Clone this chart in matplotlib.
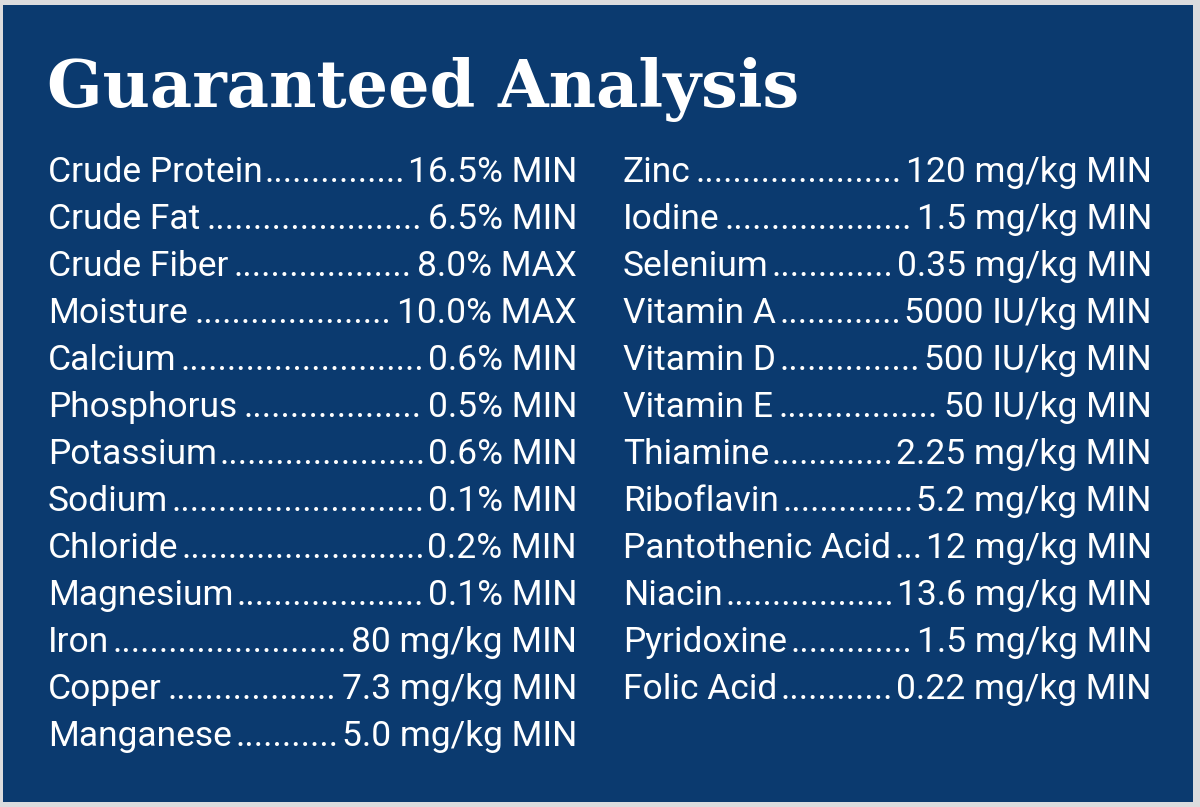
import matplotlib.pyplot as plt
from matplotlib.patches import Rectangle

W, H = 1200, 807

title = "Guaranteed Analysis"

left_names = ["Crude Protein", "Crude Fat", "Crude Fiber", "Moisture", "Calcium",
              "Phosphorus", "Potassium", "Sodium", "Chloride", "Magnesium",
              "Iron", "Copper", "Manganese"]
left_values = ["16.5% MIN", "6.5% MIN", "8.0% MAX", "10.0% MAX", "0.6% MIN",
               "0.5% MIN", "0.6% MIN", "0.1% MIN", "0.2% MIN", "0.1% MIN",
               "80 mg/kg MIN", "7.3 mg/kg MIN", "5.0 mg/kg MIN"]

right_names = ["Zinc", "Iodine", "Selenium", "Vitamin A", "Vitamin D", "Vitamin E",
               "Thiamine", "Riboflavin", "Pantothenic Acid", "Niacin",
               "Pyridoxine", "Folic Acid"]
right_values = ["120 mg/kg MIN", "1.5 mg/kg MIN", "0.35 mg/kg MIN",
                "5000 IU/kg MIN", "500 IU/kg MIN", "50 IU/kg MIN",
                "2.25 mg/kg MIN", "5.2 mg/kg MIN", "12 mg/kg MIN",
                "13.6 mg/kg MIN", "1.5 mg/kg MIN", "0.22 mg/kg MIN"]

bg_gray = "#dcdcde"
navy = "#0b3a6f"
body_font = "Roboto"
body_size = 25.5

fig = plt.figure(figsize=(W / 100, H / 100), dpi=100, facecolor=bg_gray)
ax = fig.add_axes([0, 0, 1, 1])
ax.set_xlim(0, W)
ax.set_ylim(H, 0)
ax.axis("off")
ax.add_patch(Rectangle((3, 5), 1190, 797, facecolor=navy, edgecolor="none"))

ax.text(47, 107, title, color="white", fontsize=47, fontweight="heavy",
        family="DejaVu Serif", va="baseline", ha="left")

fig.canvas.draw()
renderer = fig.canvas.get_renderer()
inv = ax.transData.inverted()


def leader_column(names, values, x0, x1, y0, step):
    dot = ax.text(0, 0, ".", fontsize=body_size, family=body_font)
    dot_w = dot.get_window_extent(renderer).width
    dot.remove()
    for i, (name, val) in enumerate(zip(names, values)):
        y = y0 + i * step
        t1 = ax.text(x0, y, name, color="white", fontsize=body_size,
                     family=body_font, va="baseline", ha="left")
        t2 = ax.text(x1, y, val, color="white", fontsize=body_size,
                     family=body_font, va="baseline", ha="right")
        e1 = inv.transform(t1.get_window_extent(renderer))
        e2 = inv.transform(t2.get_window_extent(renderer))
        gap_start = e1[1][0] + 2
        gap_end = e2[0][0] - 2
        n = max(int((gap_end - gap_start) // dot_w), 0)
        ax.text((gap_start + gap_end) / 2, y, "." * n, color="white",
                fontsize=body_size, family=body_font, va="baseline", ha="center")


leader_column(left_names, left_values, 48, 577, 182, 47)
leader_column(right_names, right_values, 623, 1152, 182, 47)

fig.savefig("out.png", dpi=100, facecolor=bg_gray)
